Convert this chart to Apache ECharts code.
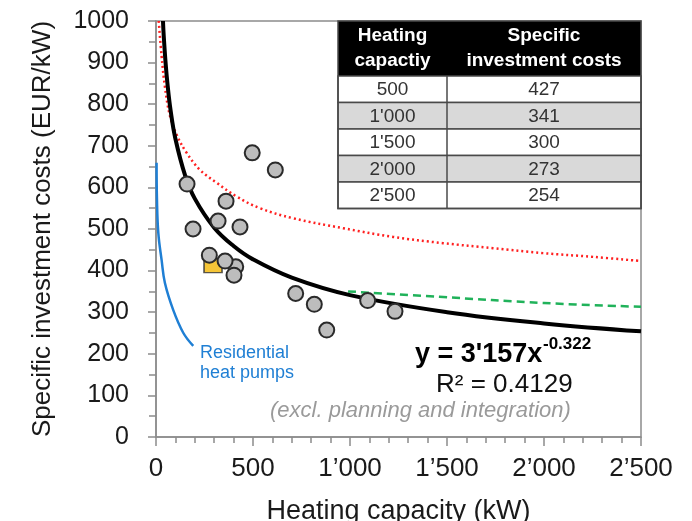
<!DOCTYPE html>
<html>
<head>
<meta charset="utf-8">
<script src="https://cdn.jsdelivr.net/npm/echarts@6/dist/echarts.min.js"></script>
<style>
html,body{margin:0;padding:0;background:#fff;}
#chart{width:692px;height:521px;}
</style>
</head>
<body>
<div id="chart"></div>
<script>
// ---- data ----
const xTicks = [0, 500, 1000, 1500, 2000, 2500];
const yTicks = [0, 100, 200, 300, 400, 500, 600, 700, 800, 900, 1000];

// measured plants (gray circles)
const plantPoints = [
  [160, 608], [191, 500], [320, 519], [361, 567], [496, 683], [615, 642],
  [433, 505], [275, 437], [411, 409], [356, 423], [402, 389],
  [720, 345], [816, 319], [880, 257], [1091, 328], [1232, 302]
];
// highlighted plant (yellow square)
const highlightPoint = [[294, 412]];

// fitted curve y = 3'157 x^-0.322
const fitCurve = [
  [36, 1000], [40, 963], [50, 896], [60, 845], [75, 786], [100, 717], [150, 629],
  [200, 573], [300, 503], [400, 459], [500, 427], [700, 383], [1000, 341],
  [1500, 300], [2000, 273], [2500, 254]
];
// red dotted curve
const redCurve = [
  [14, 1000], [29, 915], [46, 842], [72, 772], [107, 726], [158, 683], [227, 642],
  [313, 611], [416, 578], [536, 550], [706, 526], [964, 502], [1222, 481],
  [1479, 466], [1737, 454], [1995, 442], [2253, 433], [2500, 423]
];
// green dashed curve
const greenCurve = [[990, 350], [1460, 337], [2000, 322], [2500, 313]];
// residential heat pumps (blue)
const heatPumpCurve = [
  [3, 659], [5, 570], [12, 490], [29, 425], [46, 370], [89, 305], [141, 250], [192, 219]
];

// table
const tableHeaders = ["Heating\ncapactiy", "Specific\ninvestment costs"];
const tableCapacity = ["500", "1'000", "1'500", "2'000", "2'500"];
const tableCost = [427, 341, 300, 273, 254];

// texts
const eqMain = "y = 3'157x";
const eqExp = "-0.322";
const eqR2 = "R\u00B2 = 0.4129";
const eqNote = "(excl. planning and integration)";
const heatPumpLabel = ["Residential", "heat pumps"];

// ---- chart ----
const FONT = "'Liberation Sans', Arial, sans-serif";
const chart = echarts.init(document.getElementById('chart'));

function fmtThousands(v) {
  if (v >= 1000) {
    return Math.floor(v / 1000) + '\u2019' + String(v % 1000).padStart(3, '0');
  }
  return String(v);
}

// table layout (pixels)
const T = { x0: 338, x1: 447, x2: 641, y0: 21, headH: 55, rowH: 26.5 };
const graphics = [];
graphics.push({ type: 'rect', shape: { x: T.x0, y: T.y0, width: T.x2 - T.x0, height: T.headH },
  style: { fill: '#000' }, z: 100 });
tableCapacity.forEach((c, i) => {
  const y = T.y0 + T.headH + i * T.rowH;
  graphics.push({ type: 'rect', shape: { x: T.x0, y: y, width: T.x2 - T.x0, height: T.rowH },
    style: { fill: i % 2 === 1 ? '#d9d9d9' : '#ffffff', stroke: '#4a4a4a', lineWidth: 1.5 }, z: 100 });
  graphics.push({ type: 'text', z: 101, style: { text: c, x: (T.x0 + T.x1) / 2, y: y + T.rowH / 2 + 1,
    textAlign: 'center', textVerticalAlign: 'middle', font: '19px ' + FONT, fill: '#333' } });
  graphics.push({ type: 'text', z: 101, style: { text: String(tableCost[i]), x: (T.x1 + T.x2) / 2, y: y + T.rowH / 2 + 1,
    textAlign: 'center', textVerticalAlign: 'middle', font: '19px ' + FONT, fill: '#333' } });
});
const tableBottom = T.y0 + T.headH + tableCapacity.length * T.rowH;
graphics.push({ type: 'line', z: 102, shape: { x1: T.x1, y1: T.y0 + T.headH, x2: T.x1, y2: tableBottom },
  style: { stroke: '#4a4a4a', lineWidth: 1.5 } });
graphics.push({ type: 'rect', z: 102, shape: { x: T.x0, y: T.y0, width: T.x2 - T.x0, height: tableBottom - T.y0 },
  style: { fill: 'none', stroke: '#4a4a4a', lineWidth: 1.5 } });
graphics.push({ type: 'text', z: 103, style: { text: tableHeaders[0], x: (T.x0 + T.x1) / 2, y: T.y0 + T.headH / 2,
  textAlign: 'center', textVerticalAlign: 'middle', font: 'bold 19px ' + FONT, fill: '#fff', lineHeight: 25 } });
graphics.push({ type: 'text', z: 103, style: { text: tableHeaders[1], x: (T.x1 + T.x2) / 2, y: T.y0 + T.headH / 2,
  textAlign: 'center', textVerticalAlign: 'middle', font: 'bold 19px ' + FONT, fill: '#fff', lineHeight: 25 } });

// equation texts
graphics.push({ type: 'text', z: 50, style: { text: eqMain, x: 415, y: 355, textAlign: 'left', textVerticalAlign: 'middle',
  font: 'bold 27px ' + FONT, fill: '#000' } });
graphics.push({ type: 'text', z: 50, style: { text: eqExp, x: 543, y: 344, textAlign: 'left', textVerticalAlign: 'middle',
  font: 'bold 17px ' + FONT, fill: '#000' } });
graphics.push({ type: 'text', z: 50, style: { text: eqR2, x: 436, y: 385, textAlign: 'left', textVerticalAlign: 'middle',
  font: '26px ' + FONT, fill: '#111' } });
graphics.push({ type: 'text', z: 50, style: { text: eqNote, x: 270, y: 411, textAlign: 'left', textVerticalAlign: 'middle',
  font: 'italic 22px ' + FONT, fill: '#9a9a9a' } });
graphics.push({ type: 'text', z: 50, style: { text: heatPumpLabel.join('\n'), x: 200, y: 363, textAlign: 'left', textVerticalAlign: 'middle',
  font: '18px ' + FONT, fill: '#1f7fd4', lineHeight: 20 } });

const option = {
  animation: false,
  backgroundColor: '#fff',
  textStyle: { fontFamily: FONT },
  grid: { left: 156, right: 51, top: 21, bottom: 84, containLabel: false, outerBoundsMode: 'none',
    show: true, borderColor: '#8c8c8c', borderWidth: 1.5, backgroundColor: 'transparent' },
  xAxis: {
    type: 'value', min: xTicks[0], max: xTicks[xTicks.length - 1], interval: 500,
    name: 'Heating capacity (kW)', nameLocation: 'middle', nameGap: 61,
    nameTextStyle: { fontSize: 27, color: '#1a1a1a', fontFamily: FONT },
    axisLine: { show: true, lineStyle: { color: '#8c8c8c', width: 1.5 } },
    axisTick: { show: true, length: 9, lineStyle: { color: '#8c8c8c', width: 1.5 } },
    minorTick: { show: true, splitNumber: 5, length: 6, lineStyle: { color: '#8c8c8c', width: 1.5 } },
    splitLine: { show: false },
    axisLabel: { fontSize: 26, color: '#1a1a1a', margin: 19, fontFamily: FONT, formatter: fmtThousands }
  },
  yAxis: {
    type: 'value', min: yTicks[0], max: yTicks[yTicks.length - 1], interval: 100,
    name: 'Specific investment costs (EUR/kW)', nameLocation: 'middle', nameGap: 100,
    nameTextStyle: { fontSize: 26, color: '#1a1a1a', fontFamily: FONT },
    axisLine: { show: true, lineStyle: { color: '#8c8c8c', width: 1.5 } },
    axisTick: { show: true, length: 8, lineStyle: { color: '#8c8c8c', width: 1.5 } },
    minorTick: { show: true, splitNumber: 2, length: 7, lineStyle: { color: '#8c8c8c', width: 1.5 } },
    splitLine: { show: false },
    axisLabel: { fontSize: 25, color: '#1a1a1a', margin: 27, fontFamily: FONT, formatter: v => String(v) }
  },
  series: [
    { type: 'line', data: heatPumpCurve, smooth: 0.4, showSymbol: false, symbol: 'none',
      lineStyle: { color: '#1f7fd4', width: 2.5 }, z: 2 },
    { type: 'line', data: redCurve, smooth: 0.4, showSymbol: false, symbol: 'none',
      lineStyle: { color: '#ff2020', width: 2.5, type: [2, 3] }, z: 2 },
    { type: 'line', data: greenCurve, smooth: 0.4, showSymbol: false, symbol: 'none',
      lineStyle: { color: '#20b25a', width: 2.5, type: [8, 5] }, z: 2 },
    { type: 'line', data: fitCurve, smooth: 0.4, showSymbol: false, symbol: 'none',
      lineStyle: { color: '#000', width: 4 }, z: 3 },
    { type: 'scatter', data: highlightPoint, symbol: 'rect', symbolSize: [18, 14],
      itemStyle: { color: '#f2b705', borderColor: '#333', borderWidth: 1.5 }, z: 4 },
    { type: 'scatter', data: plantPoints, symbol: 'circle', symbolSize: 15,
      itemStyle: { color: '#bdbdbd', borderColor: '#2a2a2a', borderWidth: 2, opacity: 1 }, z: 5 }
  ],
  graphic: graphics
};
chart.setOption(option);
</script>
</body>
</html>
